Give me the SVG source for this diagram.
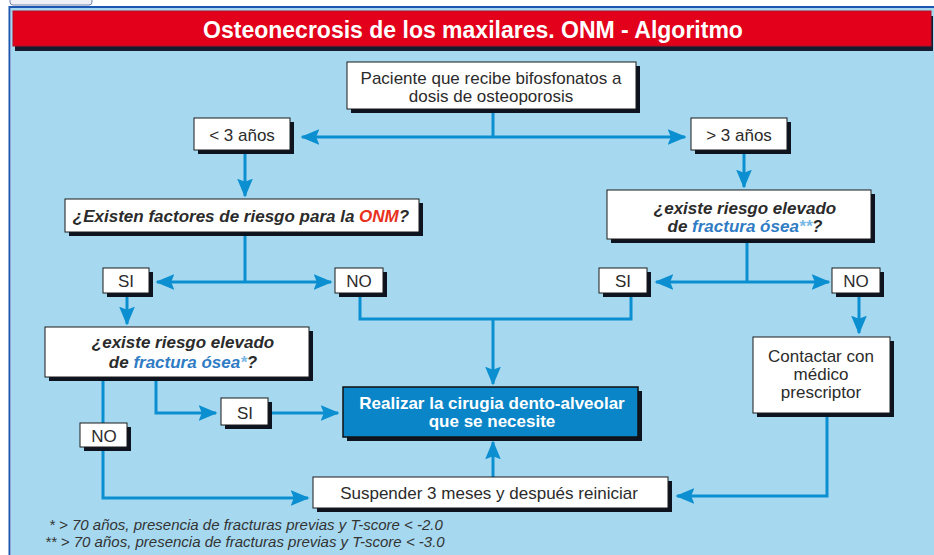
<svg xmlns="http://www.w3.org/2000/svg" width="934" height="555" viewBox="0 0 934 555">
<defs>
<style>
.box{fill:#ffffff;stroke:#1a1a1a;stroke-width:1}
.sh{fill:#0d1420}
.t{font-family:"Liberation Sans",Arial,Helvetica,sans-serif;font-size:17px;fill:#2b2b2b;text-anchor:middle}
.bi{font-weight:bold;font-style:italic}
.fr{fill:#2f7cc4}
.st{fill:#7ab8e6}
.c{fill:none;stroke:#0b8fd0;stroke-width:3}
.fn{font-family:"Liberation Sans",Arial,Helvetica,sans-serif;font-size:15px;font-style:italic;fill:#333333;text-anchor:start}
</style>
<marker id="ah" viewBox="0 0 12 10" refX="11" refY="5" markerWidth="6.3" markerHeight="5.8" orient="auto" markerUnits="strokeWidth">
<path d="M0,0 L12,5 L0,10 L2,5 Z" fill="#0b8fd0"/>
</marker>
</defs>
<rect x="0" y="0" width="934" height="555" fill="#ffffff"/>
<rect x="10" y="-6" width="82" height="11" rx="3" fill="#eef0f6" stroke="#7584b0" stroke-width="1"/>
<rect x="11" y="8" width="923" height="547" fill="#a6d9f0"/>
<path d="M9.5,555 V7 H934" fill="none" stroke="#1c56b0" stroke-width="2"/>
<g id="title">
<rect x="15" y="16" width="918" height="35" fill="#151c30"/>
<rect x="13" y="11" width="918" height="35" fill="#e2001a" stroke="#b0102a" stroke-width="1"/>
<text x="473" y="38" style="font-family:'Liberation Sans',Arial,sans-serif;font-size:23px;font-weight:bold;fill:#ffffff;text-anchor:middle">Osteonecrosis de los maxilares. ONM - Algoritmo</text>
</g>
<g id="connectors">
<path class="c" d="M493,111 V137"/>
<path class="c" d="M493,137 H302" marker-end="url(#ah)"/>
<path class="c" d="M493,137 H685" marker-end="url(#ah)"/>
<path class="c" d="M245,154 V196" marker-end="url(#ah)"/>
<path class="c" d="M744,154 V187" marker-end="url(#ah)"/>
<path class="c" d="M245,236 V282"/>
<path class="c" d="M245,282 H157" marker-end="url(#ah)"/>
<path class="c" d="M245,282 H331" marker-end="url(#ah)"/>
<path class="c" d="M747,243 V282"/>
<path class="c" d="M747,282 H656" marker-end="url(#ah)"/>
<path class="c" d="M747,282 H829" marker-end="url(#ah)"/>
<path class="c" d="M127,297 V324" marker-end="url(#ah)"/>
<path class="c" d="M360,297 V319 H631 V297"/>
<path class="c" d="M493,319 V384" marker-end="url(#ah)"/>
<path class="c" d="M859,297 V333" marker-end="url(#ah)"/>
<path class="c" d="M156,381 V413 H216" marker-end="url(#ah)"/>
<path class="c" d="M272,413 H338" marker-end="url(#ah)"/>
<path class="c" d="M103,381 V423"/>
<path class="c" d="M103,451 V498 H308" marker-end="url(#ah)"/>
<path class="c" d="M493,477 V442" marker-end="url(#ah)"/>
<path class="c" d="M827,417 V496 H677" marker-end="url(#ah)"/>
</g>
<g id="n-paciente">
<rect class="sh" x="351" y="66" width="289" height="47"/>
<rect class="box" x="347" y="62" width="289" height="47"/>
<text class="t" x="491" y="84">Paciente que recibe bifosfonatos a</text>
<text class="t" x="491" y="102">dosis de osteoporosis</text>
</g>
<g id="n-menos3">
<rect class="sh" x="198" y="122" width="96" height="32"/>
<rect class="box" x="194" y="118" width="96" height="32"/>
<text class="t" x="242" y="141">&lt; 3 años</text>
</g>
<g id="n-mas3">
<rect class="sh" x="695" y="122" width="96" height="32"/>
<rect class="box" x="691" y="118" width="96" height="32"/>
<text class="t" x="739" y="141">&gt; 3 años</text>
</g>
<g id="n-factores">
<rect class="sh" x="69" y="203" width="354" height="33"/>
<rect class="box" x="65" y="199" width="354" height="33"/>
<text class="t bi" x="241" y="222">¿Existen factores de riesgo para la <tspan fill="#e8321e">ONM</tspan>?</text>
</g>
<g id="n-riesgo-der">
<rect class="sh" x="611" y="194" width="264" height="49"/>
<rect class="box" x="607" y="190" width="264" height="49"/>
<text class="t bi" x="745" y="214">¿existe riesgo elevado</text>
<text class="t bi" x="745" y="232">de <tspan class="fr">fractura ósea</tspan><tspan class="st">**</tspan>?</text>
</g>
<g id="n-si1">
<rect class="sh" x="107" y="272" width="46" height="25"/>
<rect class="box" x="103" y="268" width="46" height="25"/>
<text class="t" x="126" y="287">SI</text>
</g>
<g id="n-no1">
<rect class="sh" x="339" y="272" width="48" height="25"/>
<rect class="box" x="335" y="268" width="48" height="25"/>
<text class="t" x="359" y="287">NO</text>
</g>
<g id="n-si-der">
<rect class="sh" x="603" y="272" width="48" height="25"/>
<rect class="box" x="599" y="268" width="48" height="25"/>
<text class="t" x="623" y="287">SI</text>
</g>
<g id="n-no-der">
<rect class="sh" x="836" y="272" width="48" height="25"/>
<rect class="box" x="832" y="268" width="48" height="25"/>
<text class="t" x="856" y="287">NO</text>
</g>
<g id="n-riesgo-izq">
<rect class="sh" x="49" y="331" width="264" height="50"/>
<rect class="box" x="45" y="327" width="264" height="50"/>
<text class="t bi" x="183" y="348">¿existe riesgo elevado</text>
<text class="t bi" x="183" y="368">de <tspan class="fr">fractura ósea</tspan><tspan class="st">*</tspan>?</text>
</g>
<g id="n-realizar">
<rect class="sh" x="347" y="391" width="295" height="50"/>
<rect x="343" y="387" width="295" height="50" fill="#0a86c8" stroke="#111111" stroke-width="1.5"/>
<text class="t" x="492" y="409" style="fill:#ffffff;font-weight:bold">Realizar la cirugia dento-alveolar</text>
<text class="t" x="492" y="427" style="fill:#ffffff;font-weight:bold">que se necesite</text>
</g>
<g id="n-si2">
<rect class="sh" x="225" y="402" width="47" height="27"/>
<rect class="box" x="221" y="398" width="47" height="27"/>
<text class="t" x="245" y="419">SI</text>
</g>
<g id="n-no2">
<rect class="sh" x="84" y="427" width="47" height="24"/>
<rect class="box" x="80" y="423" width="47" height="24"/>
<text class="t" x="104" y="442">NO</text>
</g>
<g id="n-contactar">
<rect class="sh" x="757" y="341" width="137" height="76"/>
<rect class="box" x="753" y="337" width="137" height="76"/>
<text class="t" x="821" y="362">Contactar con</text>
<text class="t" x="821" y="380">médico</text>
<text class="t" x="821" y="398">prescriptor</text>
</g>
<g id="n-suspender">
<rect class="sh" x="317" y="481" width="355" height="31"/>
<rect class="box" x="313" y="477" width="355" height="31"/>
<text class="t" x="489" y="499">Suspender 3 meses y después reiniciar</text>
</g>
<g id="footnotes">
<text class="fn" x="49" y="530">* &gt; 70 años, presencia de fracturas previas y T-score &lt; -2.0</text>
<text class="fn" x="45" y="547">** &gt; 70 años, presencia de fracturas previas y T-score &lt; -3.0</text>
</g>
</svg>
